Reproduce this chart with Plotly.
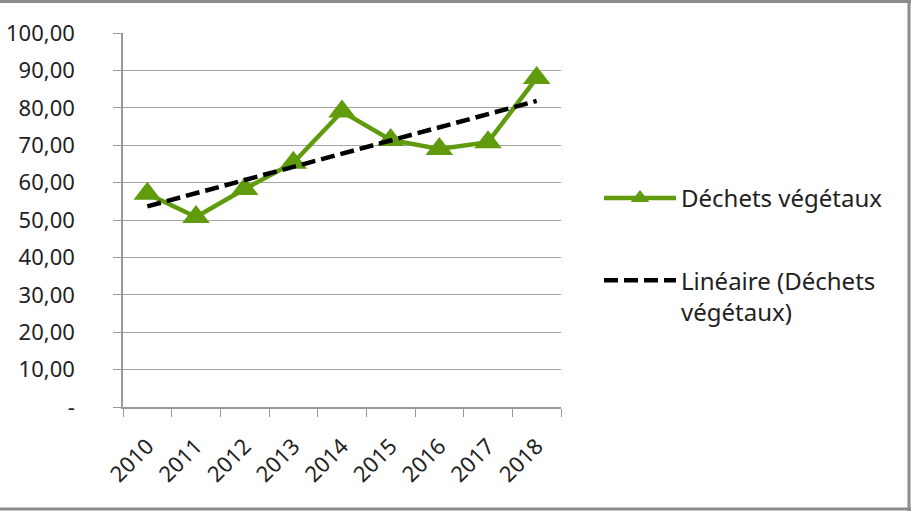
import numpy as np
import plotly.graph_objects as go

years = ["2010", "2011", "2012", "2013", "2014", "2015", "2016", "2017", "2018"]
dechets = [57.0, 50.8, 58.3, 65.3, 79.0, 71.4, 69.0, 70.8, 88.0]
y_tickvals = [0, 10, 20, 30, 40, 50, 60, 70, 80, 90, 100]
y_ticktext = ["-", "10,00", "20,00", "30,00", "40,00", "50,00", "60,00",
              "70,00", "80,00", "90,00", "100,00"]

# Linear trend (least squares), as Excel's "Linéaire" trendline
idx = np.arange(len(dechets))
slope, intercept = np.polyfit(idx, dechets, 1)
trend = (slope * idx + intercept).tolist()

green = "#5f9b0c"
font = "Noto Sans, sans-serif"

fig = go.Figure()
fig.add_trace(go.Scatter(
    x=years, y=dechets, mode="lines+markers", name="Déchets végétaux",
    line=dict(color=green, width=4.5),
    marker=dict(symbol="triangle-up", size=24, color=green),
    legendgroup="a",
))
fig.add_trace(go.Scatter(
    x=years, y=trend, mode="lines", name="Linéaire (Déchets<br>végétaux)",
    line=dict(color="black", width=4.5, dash="14px,6px"),
    legendgroup="b",
))

W, H = 911, 511
ml, mr, mt, mb = 123, 350, 33, 104
pw, ph = W - ml - mr, H - mt - mb

def px(x):
    return (x - ml) / pw

def py(y):
    return (H - mb - y) / ph

border = dict(color="#8c8c8c", width=3)
fig.update_layout(
    width=W, height=H,
    margin=dict(l=ml, r=mr, t=mt, b=mb, autoexpand=False),
    paper_bgcolor="white", plot_bgcolor="white",
    font=dict(family=font, size=22, color="#222222"),
    showlegend=True,
    legend=dict(x=px(599), y=py(176), xanchor="left", yanchor="top",
                font=dict(size=24), itemwidth=72, tracegroupgap=48, valign="top",
                traceorder="grouped", bgcolor="rgba(0,0,0,0)"),
    xaxis=dict(type="category", range=[-0.5, 8.5], showgrid=False, automargin=False,
               showline=True, linecolor="#999999", linewidth=1.5,
               ticks="outside", tickson="boundaries", ticklen=8, tickcolor="#999999",
               tickangle=-45, tickfont=dict(size=22), ticklabelstandoff=16),
    yaxis=dict(range=[0, 100], tickvals=y_tickvals, ticktext=y_ticktext, automargin=False,
               showgrid=True, gridcolor="#a6a6a6", gridwidth=1.2,
               showline=True, linecolor="#999999", linewidth=1.5,
               ticks="outside", ticklen=8, tickcolor="#999999",
               ticklabelstandoff=34, zeroline=False, tickfont=dict(size=22)),
    shapes=[
        dict(type="line", xref="paper", yref="paper", x0=px(0), x1=px(911),
             y0=py(1.5), y1=py(1.5), line=border),
        dict(type="line", xref="paper", yref="paper", x0=px(0), x1=px(911),
             y0=py(509), y1=py(509), line=border),
        dict(type="line", xref="paper", yref="paper", x0=px(909), x1=px(909),
             y0=py(0), y1=py(511), line=border),
    ],
)

fig.write_html("out.html", config={"displayModeBar": False},
               post_script="document.body.style.margin='0';")
